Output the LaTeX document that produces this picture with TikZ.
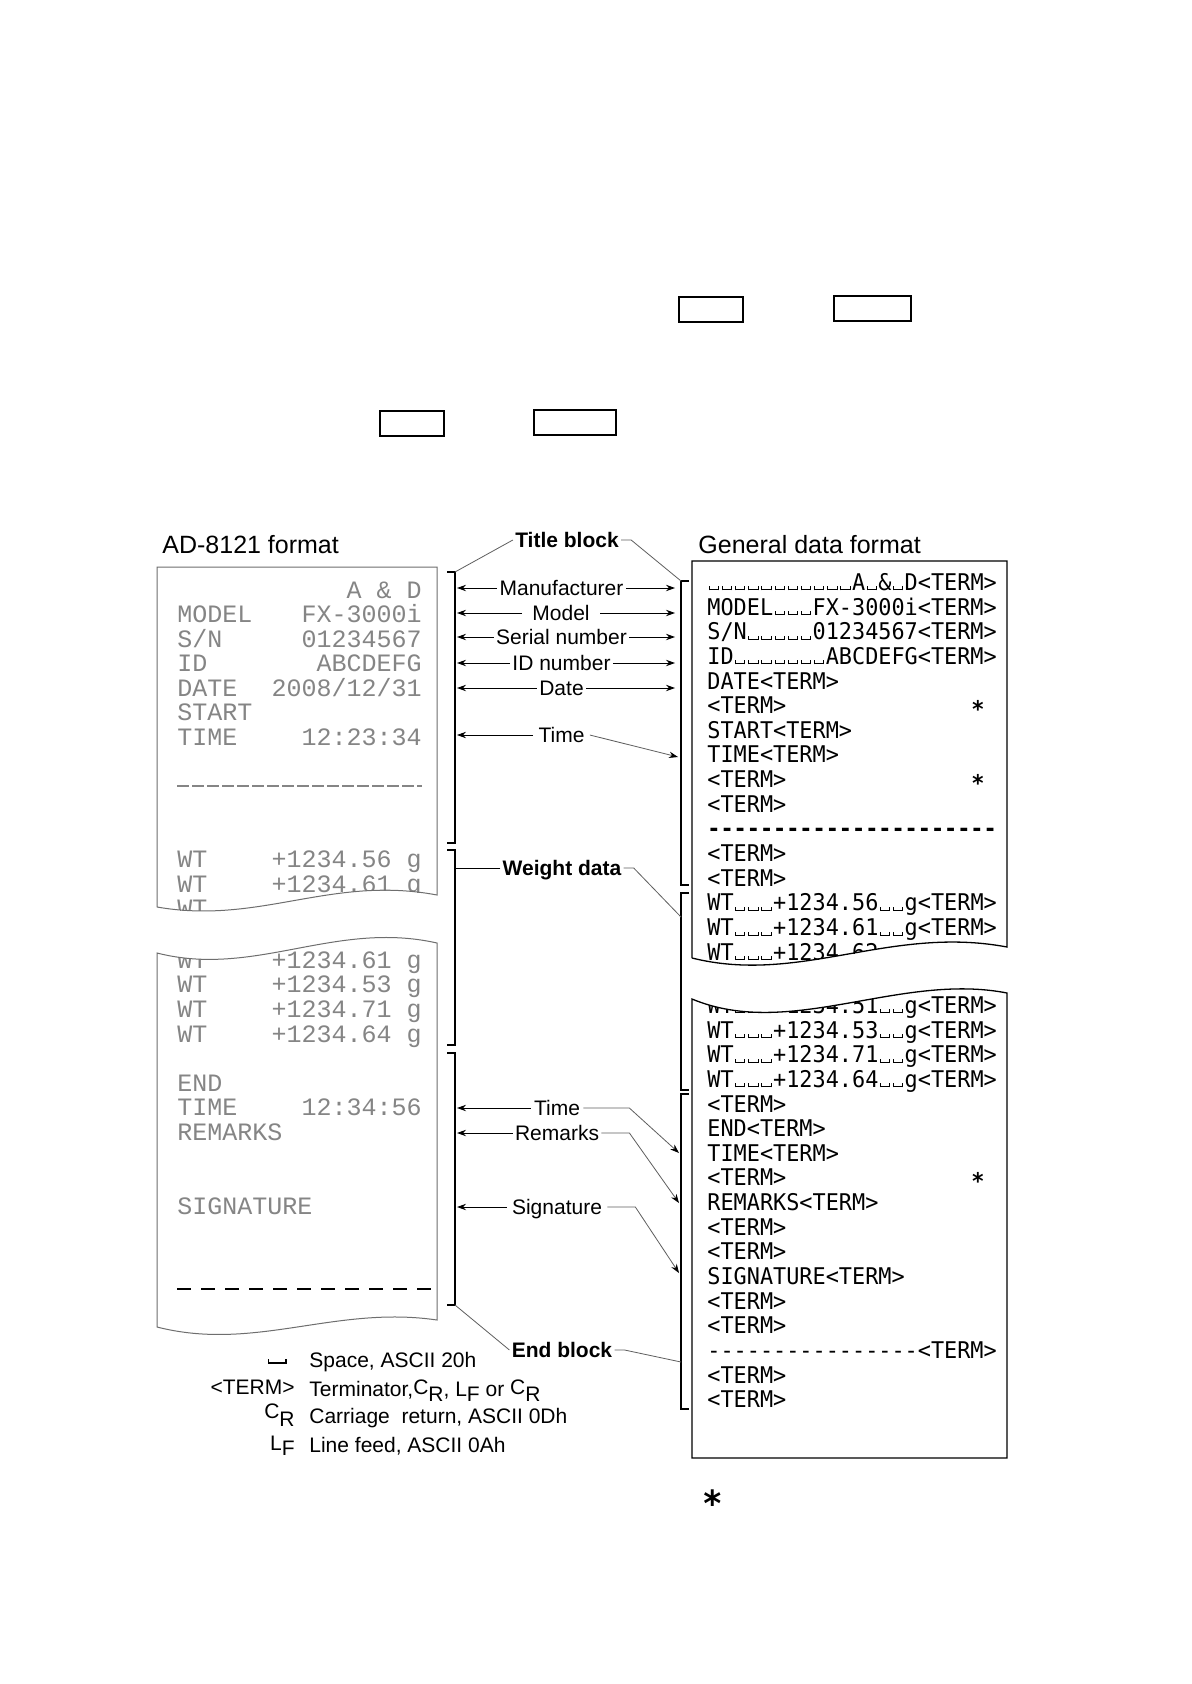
\documentclass[tikz,border=0pt]{standalone}
\usepackage{fontspec}
\setmainfont{Liberation Sans}
\newfontfamily\dotfont{Liberation Mono}
\newfontfamily\termfont[FakeStretch=0.95]{DejaVu Sans Mono}
\usetikzlibrary{arrows.meta}
\usetikzlibrary{positioning}
\usepackage{xcolor}
\definecolor{dotgrey}{HTML}{858585}
\definecolor{papergrey}{HTML}{6E6E6E}
\definecolor{wiregrey}{HTML}{5E5E5E}

% open-box space marker, one character cell wide
\newcommand\spmark{\setbox0\hbox{0}\makebox[\wd0][c]{\rule{0.5pt}{2pt}\rule{4.2pt}{0.5pt}\rule{0.5pt}{2pt}}}
\newcommand\spmarks[1]{\foreach \k in {1,...,#1}{\spmark}}
\newcommand\dashrun[1]{\foreach \k in {1,...,#1}{-}}
\newcommand\subCR{\raisebox{0.2ex}{C}\raisebox{-0.45ex}{R}}
\newcommand\subLF{L\raisebox{-0.45ex}{F}}
\newcommand\bigCR{\raisebox{0.45ex}{C}\raisebox{-0.25ex}{R}}
\newcommand\bigLF{\raisebox{0.2ex}{L}\raisebox{-0.3ex}{F}}

\begin{document}
\begin{tikzpicture}[x=0.5pt, y=-0.5pt,
    paper/.style={draw=papergrey, line width=0.5pt},
    slip/.style={draw=black, line width=0.65pt},
    keybox/.style={draw, line width=0.75pt, minimum height=12.5pt, inner sep=0pt},
    heading/.style={font=\fontsize{12.5}{14}\selectfont, inner sep=0pt, anchor=west},
    lbl/.style={font=\fontsize{10.5}{12}\selectfont, inner sep=1pt,
      text height=7.5pt, text depth=0pt},
    lblB/.style={lbl, font=\fontsize{10.5}{12}\selectfont\bfseries},
    dotrow/.style={font=\dotfont\fontsize{12.5}{14}\selectfont, text=dotgrey,
      inner sep=0pt, text height=8.2pt, text depth=0pt},
    termrow/.style={font=\termfont\fontsize{11.5}{13}\selectfont, inner sep=0pt,
      anchor=west, text height=8.4pt, text depth=0pt},
    starmark/.style={termrow, anchor=center, font=\termfont\bfseries\fontsize{11.5}{13}\selectfont},
    dotline/.style={draw=dotgrey, line width=0.6pt, dash pattern=on 6pt off 1.5pt},
    sigline/.style={draw=black, line width=0.7pt, dash pattern=on 7pt off 5pt},
    brk/.style={draw, line width=0.6pt},
    arr/.style={-{Stealth[length=4.5pt, width=3.2pt]}, line width=0.5pt},
    wire/.style={draw=wiregrey, line width=0.4pt},
    wirearr/.style={wire, -{Stealth[length=4.5pt, width=3.2pt, color=black]}},
  ]

  % === page ===
  \path[use as bounding box, fill=white] (0,0) rectangle (1191,1684);

  % === key boxes ===
  \node[keybox, minimum width=32pt] (keyA) at (711,309.5) {};
  \node[keybox, minimum width=38.5pt] (keyB) at (872.5,308.5) {};
  \node[keybox, minimum width=32pt] (keyC) at (412,423.5) {};
  \node[keybox, minimum width=41pt] (keyD) at (575,422.5) {};

  % === headings ===
  \node[heading] (adhead) at (162,545) {AD-8121 format};
  \node[heading] (genhead) at (698,545) {General data format};

  % === AD-8121 slip, upper part ===
  \begin{scope}
    \clip (157,907) -- (157,567) -- (437,567) -- (437,895)
      .. controls (331,875) and (260,925) .. (157,907);
    \foreach \r/\k/\v in {0/{}/{A \& D}, 1/MODEL/FX-3000i, 2/{S/N}/01234567,
        3/ID/ABCDEFG, 4/DATE/{2008/12/31}, 5/START/{}, 6/TIME/12:23:34,
        11/WT/{+1234.56 g}, 12/WT/{+1234.61 g}, 13/WT/{}} {
      \node[dotrow, anchor=west] (dk\r) at (177,{590+24.5*\r}) {\k};
      \node[dotrow, anchor=east] (dv\r) at (422,{590+24.5*\r}) {\v};
    }
    \draw[dotline] (177,786) -- (422,786);
  \end{scope}
  \draw[paper] (157,907) -- (157,567) -- (437,567) -- (437,895)
    .. controls (331,875) and (260,925) .. (157,907);

  % === AD-8121 slip, lower part ===
  \begin{scope}
    \clip (157,953) .. controls (255,978) and (335,920) .. (437,943)
      -- (437,1320) .. controls (335,1305) and (255,1352) .. (157,1327) -- cycle;
    \foreach \r/\k/\v in {0/WT/{+1234.61 g}, 1/WT/{+1234.53 g}, 2/WT/{+1234.71 g},
        3/WT/{+1234.64 g}, 5/END/{}, 6/TIME/12:34:56, 7/REMARKS/{}, 10/SIGNATURE/{}} {
      \node[dotrow, anchor=west] (ek\r) at (177,{960+24.6*\r}) {\k};
      \node[dotrow, anchor=east] (ev\r) at (422,{960+24.6*\r}) {\v};
    }
    \draw[sigline] (177,1289) -- (431,1289);
  \end{scope}
  \draw[paper] (157,953) .. controls (255,978) and (335,920) .. (437,943)
    -- (437,1320) .. controls (335,1305) and (255,1352) .. (157,1327) -- cycle;

  % === general format, upper part ===
  \begin{scope}
    \clip (692,958) -- (692,561) -- (1007,561) -- (1007,947)
      .. controls (890,925) and (800,985) .. (692,958);
    \foreach \r/\t in {0/{\spmarks{11}A\spmark\&\spmark D<TERM>},
        1/{MODEL\spmarks{3}FX-3000i<TERM>}, 2/{S/N\spmarks{5}01234567<TERM>},
        3/{ID\spmarks{7}ABCDEFG<TERM>}, 4/{DATE<TERM>}, 5/{<TERM>},
        6/{START<TERM>}, 7/{TIME<TERM>}, 8/{<TERM>}, 9/{<TERM>},
        10/{\bfseries\dashrun{22}}, 11/{<TERM>}, 12/{<TERM>},
        13/{WT\spmarks{3}+1234.56\spmarks{2}g<TERM>},
        14/{WT\spmarks{3}+1234.61\spmarks{2}g<TERM>},
        15/{WT\spmarks{3}+1234.62\spmarks{2}g<TERM>}} {
      \node[termrow] (gu\r) at (707,{582+24.65*\r}) {\t};
    }
    \node[starmark] (star1) at (978,{582+24.65*5+4}) {*};
    \node[starmark] (star2) at (978,{582+24.65*8+4}) {*};
  \end{scope}
  \draw[slip] (692,958) -- (692,561) -- (1007,561) -- (1007,947)
    .. controls (890,925) and (800,985) .. (692,958);

  % === general format, lower part ===
  \begin{scope}
    \clip (692,999) .. controls (790,1040) and (900,972) .. (1007,993)
      -- (1007,1458) -- (692,1458) -- cycle;
    \foreach \r/\t in {0/{WT\spmarks{3}+1234.51\spmarks{2}g<TERM>},
        1/{WT\spmarks{3}+1234.53\spmarks{2}g<TERM>},
        2/{WT\spmarks{3}+1234.71\spmarks{2}g<TERM>},
        3/{WT\spmarks{3}+1234.64\spmarks{2}g<TERM>},
        4/{<TERM>}, 5/{END<TERM>}, 6/{TIME<TERM>}, 7/{<TERM>},
        8/{REMARKS<TERM>}, 9/{<TERM>}, 10/{<TERM>}, 11/{SIGNATURE<TERM>},
        12/{<TERM>}, 13/{<TERM>}, 14/{\dashrun{16}<TERM>}, 15/{<TERM>}, 16/{<TERM>}} {
      \node[termrow] (gl\r) at (707,{1005+24.65*\r}) {\t};
    }
    \node[starmark] (star3) at (978,{1005+24.65*7+4}) {*};
  \end{scope}
  \draw[slip] (692,999) .. controls (790,1040) and (900,972) .. (1007,993)
    -- (1007,1458) -- (692,1458) -- cycle;

  % === brackets ===
  \foreach \n/\a/\b in {title/572/843, weight/850/1045, end/1053/1305} {
    \draw[brk] (447,\a) -- (455,\a) -- (455,\b) -- (447,\b);
    \coordinate (L\n top) at (455,\a);
    \coordinate (L\n bot) at (455,\b);
  }
  \foreach \n/\a/\b in {title/581/885, weight/893/1090, end/1094/1409} {
    \draw[brk] (689,\a) -- (681,\a) -- (681,\b) -- (689,\b);
    \coordinate (R\n top) at (681,\a);
    \coordinate (R\n bot) at (681,\b);
  }
  \coordinate (Lbar) at (455,0);
  \coordinate (Lx) at (457,0);
  \coordinate (Rx) at (675,0);

  % === title block ===
  \node[lblB] (title) at (567,540) {Title block};
  \draw[wire] (Ltitletop) -- (title.west);
  \draw[wire] (title.east) -- ++(10,0) -- (Rtitletop);

  \node[lbl] (manu) at (561.5,588) {Manufacturer};
  \node[lbl, inner xsep=5pt] (model) at (561,613) {Model};
  \node[lbl] (serial) at (561.5,637) {Serial number};
  \node[lbl] (idnum) at (561.5,663) {ID number};
  \node[lbl] (date) at (561.5,688) {Date};
  \foreach \n in {manu, model, serial, idnum, date} {
    \draw[arr] (\n.west) -- (\n.west -| Lx);
    \draw[arr] (\n.east) -- (\n.east -| Rx);
  }
  \node[lbl, inner xsep=2.5pt] (time1) at (561.5,735) {Time};
  \coordinate (time1tip) at (678,757);
  \draw[arr, line width=0.4pt] (time1.west) -- (time1.west -| Lx);
  \draw[wirearr] (time1.east) -- (time1tip);

  % === weight data ===
  \node[lblB] (weight) at (562,868) {Weight data};
  \coordinate (weighttip) at (681,917);
  \draw[line width=0.5pt] (weight.west) -- (weight.west -| Lbar);
  \draw[wire] (weight.east) -- ++(10,0) -- (weighttip);

  % === end block ===
  \node[lbl, inner xsep=1.5pt] (time2) at (557,1108) {Time};
  \node[lbl] (remarks) at (557,1133) {Remarks};
  \node[lbl, inner xsep=2.5pt] (sign) at (557,1207) {Signature};
  \coordinate (time2tip) at (679,1153);
  \coordinate (remarkstip) at (679,1203);
  \coordinate (signtip) at (679,1273);
  \foreach \n in {time2, remarks, sign}
    \draw[arr] (\n.west) -- (\n.west -| Lx);
  \draw[wirearr] (time2.east) -- ++(46,0) -- (time2tip);
  \draw[wirearr] (remarks.east) -- ++(28,0) -- (remarkstip);
  \draw[wirearr] (sign.east) -- ++(28,0) -- (signtip);

  \node[lblB] (endblk) at (562,1350) {End block};
  \coordinate (endtip) at (681,1362);
  \draw[wire] (Lendbot) -- (endblk.west);
  \draw[wire] (endblk.east) -- ++(10,0) -- (endtip);

  % === legend ===
  \node[lbl, anchor=east] (symSpace) at (289,1356)
    {\rule{0.6pt}{2.5pt}\rule{8pt}{0.6pt}\rule{0.6pt}{2.5pt}};
  \node[lbl, anchor=west] (lgSpace) at (307,1360) {Space, ASCII 20h};
  \node[lbl, anchor=east] (symTerm) at (297,1387) {<TERM>};
  \node[lbl, anchor=west] (lgTerm) at (307,1389) {Terminator,\subCR, \subLF{} or \subCR};
  \node[lbl, anchor=east] (symCR) at (297,1416) {\bigCR};
  \node[lbl, anchor=west] (lgCR) at (307,1416) {Carriage\ \ return, ASCII 0Dh};
  \node[lbl, anchor=east] (symLF) at (297,1445) {\bigLF};
  \node[lbl, anchor=west] (lgLF) at (307,1445) {Line feed, ASCII 0Ah};

  % === footnote mark ===
  \node[font=\termfont\bfseries\fontsize{18}{20}\selectfont, inner sep=0pt, anchor=base]
    (note) at (713,1516) {*};

\end{tikzpicture}
\end{document}
